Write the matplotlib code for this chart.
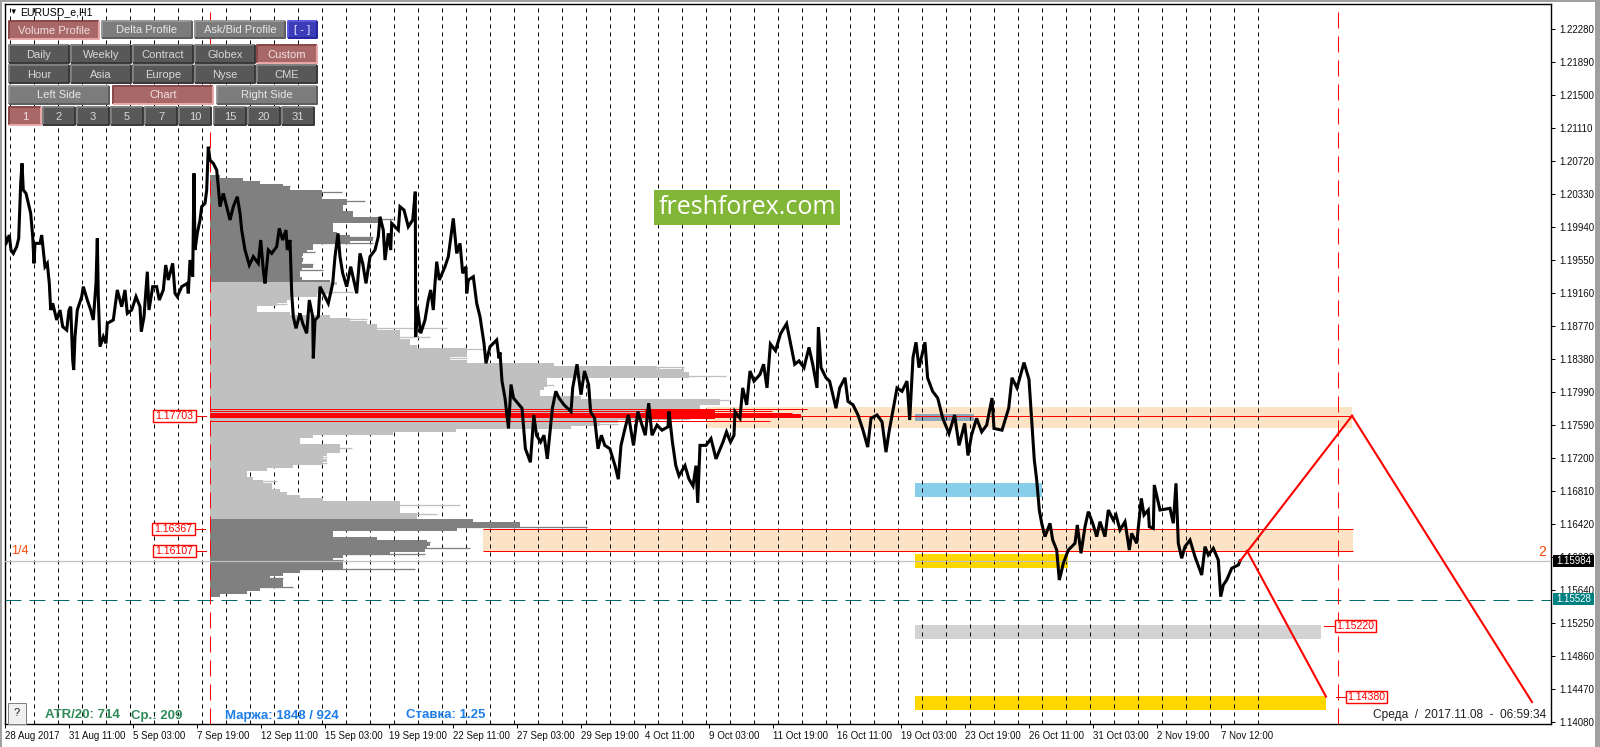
import numpy as np
import matplotlib
matplotlib.use('Agg')
import matplotlib.pyplot as plt
from matplotlib.patches import Rectangle

plt.rcParams['font.family'] = ['Liberation Sans', 'DejaVu Sans']

# Price path: hour bar since 28 Aug 2017 / EURUSD price
bars = [0, 1.7, 4.3, 6, 8.3, 11.7, 13.7, 15.7, 17, 18.3, 21, 23.3, 25.7, 27.7, 29, 30, 35, 36.7, 38.3, 40, 42.3, 44.3,
        45.7, 47.7, 51.7, 55, 57.7, 61.7, 64, 65.7, 67.7, 68.7, 70, 72.3, 76.7, 78.3, 82.3, 85.7, 88.3, 91, 92.3, 93.3,
        95, 98.3, 101, 102.3, 108.3, 112.3, 116.7, 120, 122.3, 126.7, 131, 135, 136.3, 139, 142.3, 144, 147.7, 151.7,
        154.3, 158.3, 160.7, 163.3, 167.7, 170, 172.3, 176.7, 182.3, 183.3, 185, 187.7, 189, 190, 192.3, 195, 196.7,
        200, 201.7, 203.3, 205, 208.3, 211.7, 213.3, 215, 218.3, 221.7, 225, 228.3, 232.3, 235, 236.7, 240, 244.3,
        248.3, 253.3, 255.7, 258.3, 260, 263.3, 266.7, 271.7, 274.3, 277.7, 281, 282.3, 285, 286.7, 288.3, 291, 295,
        297.7, 301.7, 304.3, 307.7, 308.3, 310, 313.3, 315, 320, 323.3, 327.7, 330, 333, 335, 337.7, 341.7, 345.7,
        351.7, 355, 357.7, 361, 365, 370, 373.3, 375, 378.3, 380, 383.3, 385.7, 386.7, 393.3, 395, 399, 403.3, 407.7,
        410.3, 410.7, 412.3, 415.7, 420, 423.3, 425.7, 428.3, 430, 431.7, 434.3, 440, 443.3, 448.3, 451.7, 455, 457.7,
        461, 461.7, 463.3, 468.3, 471.7, 475, 479, 481, 485, 491.7, 494,
        495, 497, 500, 503.5, 506, 508.5, 517, 520.4, 525.4, 528.8, 531.5, 535.6, 539, 542.3, 547.4, 550.8, 554, 559,
        566, 567.7, 572, 576, 579.5, 583.6, 585.6, 589.6, 593, 596.4, 599.8, 604.9, 610, 613.3, 616, 620, 623.4, 628.5,
        632.9, 637, 640.3, 643.7, 647, 652, 657, 663, 664, 667.4, 670.8, 674, 680, 684, 688, 691, 692.7, 695, 701, 706,
        711, 718, 721.5, 725.5, 729, 730, 735, 737.7, 741.7, 745, 749, 755, 758.6, 762, 765.4, 770.5, 775.5, 781.6,
        785.7, 789.7, 794, 799, 804, 807.7, 812, 813.4, 816, 821, 824.6, 831, 834.7, 840, 843, 848, 853, 858, 862.7,
        866, 872, 877, 881, 884, 889, 892, 897, 902, 904.7, 908, 911, 914, 920, 922.6, 927.6, 932.7, 937.8, 944, 949.6,
        954, 959.7, 963, 966.5, 971.6, 976.7, 981.7, 987, 989, 997, 1003.7, 1007, 1012, 1019, 1024,
        1029.3, 1031.7, 1034.3, 1036.7, 1040, 1045, 1047.7, 1051.7, 1054.3, 1056, 1058.3, 1063.3, 1070, 1072.3, 1076,
        1080, 1083.3, 1087.7, 1091.7, 1095, 1100, 1103.3, 1108.3, 1111, 1115, 1120, 1124.3, 1126.7, 1131.7, 1136.3,
        1139, 1143.3, 1144.3, 1148.3, 1149.3, 1155, 1165, 1168.3, 1171, 1173.3, 1176.7, 1180, 1185, 1190, 1196.7, 1200,
        1203.3, 1208.3, 1213.3, 1215.7, 1218.3, 1221.7, 1226.7, 1233.3, 1235]
price = [1.19823, 1.19763, 1.19842, 1.19665, 1.19625, 1.19704, 1.19803, 1.20454, 1.2069, 1.20375, 1.20335, 1.20217,
         1.20099, 1.19823, 1.19507, 1.19744, 1.19744, 1.19842, 1.19665, 1.19468, 1.19507, 1.1927, 1.18955, 1.19034,
         1.18837, 1.18955, 1.18758, 1.18718, 1.18955, 1.18994, 1.18363, 1.18245, 1.18639, 1.18955, 1.19113, 1.19231,
         1.19073, 1.18955, 1.18837, 1.1927, 1.19803, 1.19113, 1.18521, 1.18639, 1.1856, 1.18797, 1.18837, 1.19192,
         1.18994, 1.19192, 1.18915, 1.18955, 1.19113, 1.18994, 1.18698, 1.18876, 1.19408, 1.18955, 1.19231, 1.19231,
         1.19073, 1.19192, 1.19487, 1.1931, 1.19507, 1.19152, 1.19113, 1.19231, 1.1927, 1.19152, 1.19546, 1.19349,
         1.20572, 1.19665, 1.19862, 1.2002, 1.20178, 1.20217, 1.20375, 1.20887, 1.2073, 1.2069, 1.20611, 1.20414,
         1.20178, 1.20335, 1.20178, 1.2002, 1.20178, 1.20296, 1.20099, 1.19901, 1.19665, 1.19487, 1.19586, 1.19507,
         1.19783, 1.19428, 1.1927, 1.19665, 1.19625, 1.19704, 1.19921, 1.19783, 1.19901, 1.19665, 1.19783, 1.19152,
         1.18876, 1.18738, 1.18915, 1.18797, 1.18679, 1.19073, 1.18876, 1.18383, 1.18837, 1.18876, 1.19231, 1.19113,
         1.19034, 1.1927, 1.19586, 1.19862, 1.19586, 1.19389, 1.19231, 1.19468, 1.19152, 1.19625, 1.19507, 1.1927,
         1.19586, 1.19665, 1.19823, 1.20059, 1.19901, 1.19546, 1.19862, 1.19665, 1.1998, 1.19901, 1.20178, 1.20138,
         1.19941, 1.2002, 1.20355, 1.18639, 1.18994, 1.18679, 1.18837, 1.19073, 1.19192, 1.18955, 1.1927, 1.19527,
         1.1931, 1.19468, 1.19586, 1.20039, 1.19625, 1.19744, 1.19389, 1.19468, 1.19152, 1.1931, 1.19349, 1.19034,
         1.18876, 1.1856, 1.18324, 1.18521, 1.186, 1.18383,
         1.18453, 1.18113, 1.17913, 1.17553, 1.18073, 1.17913, 1.17793, 1.17313, 1.17153, 1.17713, 1.17473, 1.17393,
         1.17473, 1.17193, 1.17793, 1.17993, 1.17913, 1.17833, 1.17753, 1.18033, 1.18313, 1.17953, 1.18233, 1.18073,
         1.17753, 1.17673, 1.17313, 1.17473, 1.17353, 1.17313, 1.17113, 1.16953, 1.17353, 1.17553, 1.17713, 1.17353,
         1.17753, 1.17593, 1.17473, 1.17853, 1.17473, 1.17593, 1.17533, 1.17573, 1.17753, 1.17393, 1.17113, 1.16993,
         1.17113, 1.16953, 1.16873, 1.17113, 1.16673, 1.17353, 1.17353, 1.17433, 1.17193, 1.17393, 1.17513, 1.17393,
         1.17473, 1.17753, 1.17673, 1.18033, 1.17833, 1.18233, 1.18113, 1.18193, 1.18313, 1.18033, 1.18553, 1.18473,
         1.18673, 1.18793, 1.18553, 1.18313, 1.18353, 1.18273, 1.18513, 1.18313, 1.18033, 1.18753, 1.18273, 1.18153,
         1.18113, 1.17793, 1.18033, 1.18153, 1.17873, 1.17833, 1.17713, 1.17533, 1.17333, 1.17673, 1.17713, 1.17633,
         1.17273, 1.17513, 1.17833, 1.18033, 1.17993, 1.18113, 1.17653, 1.18393, 1.18573, 1.18273, 1.18573, 1.18153,
         1.17993, 1.17913, 1.17673, 1.17493, 1.17713, 1.17353, 1.17613, 1.17233, 1.17473, 1.17673, 1.17513, 1.17593,
         1.17913, 1.17553, 1.17533, 1.17793, 1.18153, 1.18033, 1.18333, 1.18133,
         1.1718, 1.16943, 1.16588, 1.16431, 1.16273, 1.16431, 1.16233, 1.16115, 1.1576, 1.15839, 1.15957, 1.16115,
         1.16194, 1.16411, 1.16076, 1.16391, 1.16569, 1.16431, 1.16273, 1.1645, 1.16273, 1.16588, 1.1647, 1.16529,
         1.16352, 1.1645, 1.16115, 1.16312, 1.16194, 1.16726, 1.16529, 1.16588, 1.16391, 1.16371, 1.16884, 1.16588,
         1.16608, 1.16431, 1.16904, 1.16194, 1.16017, 1.16155, 1.16233, 1.16036, 1.15819, 1.16155, 1.16056, 1.16135,
         1.15997, 1.15563, 1.15701, 1.1576, 1.15898, 1.15938, 1.15984]

# Volume profile widths (in bars), top of each block down
profile_left = 205
profile_step = 0.000355
upper_start = 1.20517
upper_vol = [10, 33, 50, 80, 73, 132, 112, 93, 155, 137, 110, 133, 143, 143, 183, 170, 123, 110, 123, 127, 163, 140,
             163, 103, 97, 105, 87, 93, 92, 103, 92, 113, 90, 87, 92, 120]
middle_start = 1.19251
middle_vol = [127, 110, 123, 143, 107, 80, 67, 77, 47, 30, 80, 120, 157, 140, 167, 237, 160, 190, 220, 183, 200, 207,
              273, 257, 240, 257, 213, 344, 474, 447, 479, 516, 310, 337, 344, 334, 322, 330, 371, 520, 510, 490, 490,
              490, 490, 480, 390, 408, 361, 246, 183, 103, 90, 77, 130, 142, 130, 57, 117, 113, 117, 83, 57, 37, 27,
              43, 67, 53, 62, 70, 77, 90, 113, 190, 250, 190, 187, 227, 207]
lower_start = 1.16446
lower_vol = [263, 310, 377, 247, 110, 123, 167, 220, 217, 260, 180, 215, 123, 133, 123, 133, 205, 90, 40, 73, 60, 73,
             83, 50, 37, 10]
# Point of control rows
poc_price = [1.17783, 1.17760, 1.17736, 1.17703, 1.17640]
poc_vol = [597, 562, 582, 591, 560]
poc_thick = [1, 1, 1, 4, 1]

# Zones: left bar, right bar, upper price, lower price
zones = {
    'upper': (701, 1347, 1.17802, 1.17562),
    'lower': (478, 1348, 1.16367, 1.16107),
    'blue': (910, 1037, 1.16908, 1.16742),
    'steel': (910, 969, 1.17730, 1.17646),
    'gold': (910, 1063, 1.16067, 1.15902),
    'gray': (910, 1316, 1.15227, 1.15062),
    'gold2': (910, 1321, 1.14387, 1.14222),
}

# Projected path
up_bar, up_price = [1235, 1347], [1.15984, 1.17703]
down_bar, down_price = [1242, 1321], [1.16107, 1.14380]
fall_bar, fall_price = [1347, 1527], [1.17703, 1.14316]

price_ticks = [1.22280, 1.21890, 1.21500, 1.21110, 1.20720, 1.20330, 1.19940, 1.19550, 1.19160, 1.18770, 1.18380,
               1.17990, 1.17590, 1.17200, 1.16810, 1.16420, 1.16030, 1.15640, 1.15250, 1.14860, 1.14470, 1.14080]
time_labels = ['28 Aug 2017', '31 Aug 11:00', '5 Sep 03:00', '7 Sep 19:00', '12 Sep 11:00', '15 Sep 03:00',
               '19 Sep 19:00', '22 Sep 11:00', '27 Sep 03:00', '29 Sep 19:00', '4 Oct 11:00', '9 Oct 03:00',
               '11 Oct 19:00', '16 Oct 11:00', '19 Oct 03:00', '23 Oct 19:00', '26 Oct 11:00', '31 Oct 03:00',
               '2 Nov 19:00', '7 Nov 12:00']

W, H = 1600, 747
px = 0.72  # one pixel in points
fig = plt.figure(figsize=(W / 100, H / 100), dpi=100, facecolor='white')
ax = fig.add_axes([5 / W, (H - 724) / H, 1546 / W, 720 / H])
ax.set_xlim(0, 1546)
ax.set_ylim(1.14056, 1.22576)
for s in ax.spines.values():
    s.set_linewidth(1.4 * px)
ax.yaxis.tick_right()
ax.set_yticks(price_ticks, ['%.5f' % p for p in price_ticks], fontsize=7, color='#101010')
ax.set_xticks(np.arange(len(time_labels)) * 64, time_labels, fontsize=7, color='#101010', ha='left')
ax.tick_params(axis='both', length=3, width=px, pad=3)
ax.tick_params(axis='x', pad=2)

# day separators
for d in np.arange(5.3, 1254, 24):
    ax.axvline(d, color='black', lw=px, ls=(0, (4, 4)), zorder=2)

for name, (x0, x1, hi, lo) in zones.items():
    c = {'upper': '#FDE3C5', 'lower': '#FDE3C5', 'blue': '#87CEEB', 'steel': '#8FA9BC', 'gold': '#FFD700',
         'gray': '#D3D3D3', 'gold2': '#FFD700'}[name]
    ax.add_patch(Rectangle((x0, lo), x1 - x0, hi - lo, fc=c, ec='none', zorder=1 if name != 'steel' else 1.5))


# profile blocks: solid body plus hairline tips, like the terminal draws them
def draw_profile(start, vol, color):
    vol = np.array(vol, dtype=float)
    lv = start - profile_step * np.arange(len(vol))
    nb = np.vstack([np.r_[vol[0], vol[:-1]], vol, np.r_[vol[1:], vol[-1]]])
    body = np.median(nb, axis=0)
    ax.barh(lv, body, height=profile_step, left=profile_left, color=color, lw=0, align='edge',
            antialiased=False, zorder=3)
    tips = vol > body
    ax.hlines(lv[tips] + profile_step / 2, profile_left, profile_left + vol[tips], color=color, lw=1.3 * px, zorder=3)


draw_profile(upper_start, upper_vol, '#808080')
draw_profile(middle_start, middle_vol, '#C0C0C0')
draw_profile(lower_start, lower_vol, '#808080')
ax.hlines(poc_price, profile_left, np.array(poc_vol) + profile_left, color='red', lw=np.array(poc_thick) * px, zorder=3.5)
ax.barh([1.17720], [70], height=0.0010, left=640, color='red', lw=0, zorder=3.5)

ax.hlines([1.17703, 1.16367, 1.16107], [701, 478, 478], [1347, 1348, 1348], color='red', lw=px, zorder=3.2)

# price lines
ax.axhline(1.15984, color='#C0C0C0', lw=1.2 * px, zorder=3.6)
ax.axhline(1.15528, color='#006D6D', lw=px, ls=(0, (16, 8)), zorder=3.6)
ax.axvline(205, color='red', lw=px, ls=(0, (16, 8)), zorder=3.6)
ax.axvline(1332.5, color='red', lw=px, ls=(0, (16, 8)), ymax=0.992, zorder=3.6)

ax.plot(bars, price, color='black', lw=2.2, solid_joinstyle='miter', zorder=4)

for bx, pr in [(up_bar, up_price), (down_bar, down_price), (fall_bar, fall_price)]:
    ax.plot(bx, pr, color='red', lw=1.5, zorder=5)

# overlay in screen pixels for terminal widgets and labels
ui = fig.add_axes([0, 0, 1, 1], facecolor='none')
ui.set_xlim(0, W)
ui.set_ylim(H, 0)
ui.axis('off')

ui.add_patch(Rectangle((0, 0), 2, H, fc='#A0A0A0', ec='none'))
ui.add_patch(Rectangle((0, 0), W, 2, fc='#A0A0A0', ec='none'))
ui.add_patch(Rectangle((1595, 0), 5, H, fc='#A0A0A0', ec='none'))


def button(x0, y0, x1, y1, label, style='dark'):
    face, hi, lo, txt = {'dark': ('#585858', '#808080', '#383838', '#D8D8D8'),
                         'mid': ('#7C7C7C', '#989898', '#5C5C5C', '#E8E8E8'),
                         'on': ('#A86868', '#884848', '#E8A8A8', '#F0E0E0'),
                         'blue': ('#3C3CB8', '#5858E0', '#2424A0', '#E8E8FF')}[style]
    ui.add_patch(Rectangle((x0, y0), x1 - x0, y1 - y0, fc=face, ec='none'))
    ui.plot([x0, x0, x1], [y1, y0, y0], color=hi, lw=1.4, solid_capstyle='butt')
    ui.plot([x0, x1, x1], [y1, y1, y0], color=lo, lw=1.4, solid_capstyle='butt')
    ui.text((x0 + x1) / 2, (y0 + y1) / 2 + 0.5, label, color=txt, fontsize=8, ha='center', va='center')


button(9, 21, 99, 39, 'Volume Profile', 'on')
button(102, 21, 192, 38, 'Delta Profile', 'mid')
button(195, 21, 285, 38, 'Ask/Bid Profile', 'mid')
button(288, 21, 317, 38, '[ - ]', 'blue')
for i, lab in enumerate(['Daily', 'Weekly', 'Contract', 'Globex', 'Custom']):
    button(9 + 62 * i, 45, 69 + 62 * i, 63, lab, 'on' if lab == 'Custom' else 'dark')
for i, lab in enumerate(['Hour', 'Asia', 'Europe', 'Nyse', 'CME']):
    button(9 + 62 * i, 65, 69 + 62 * i, 83, lab)
button(9, 86, 109, 104, 'Left Side', 'mid')
button(113, 86, 213, 104, 'Chart', 'on')
button(217, 86, 317, 104, 'Right Side', 'mid')
for i, lab in enumerate(['1', '2', '3', '5', '7', '10', '15', '20', '31']):
    x0 = 9 + 34 * i + (1 if i > 5 else 0)
    button(x0, 107, x0 + 32, 125, lab, 'on' if lab == '1' else 'dark')
ui.text(9, 12.5, '▼', fontsize=5.5, color='black', va='center')
ui.text(20, 12.5, 'EURUSD_e,H1', fontsize=7.6, color='black', va='center')

# "?" button
ui.add_patch(Rectangle((8, 703), 18, 21, fc='#F0F0F0', ec='#808080', lw=px))
ui.text(17, 713, '?', fontsize=8, color='#202020', ha='center', va='center')

# status strip
ui.text(45, 715.5, 'ATR/20: 714', color='#2E8B57', fontsize=9.5, fontweight='bold', va='center')
ui.text(131, 715.5, 'Ср.: 209', color='#2E8B57', fontsize=9.5, fontweight='bold', va='center')
ui.text(225, 715.5, 'Маржа: 1848 / 924', color='#1E7FE8', fontsize=9.5, fontweight='bold', va='center')
ui.text(406, 715.5, 'Ставка: 1.25', color='#1E7FE8', fontsize=9.5, fontweight='bold', va='center')
ui.text(1546, 715, 'Среда  /  2017.11.08  -  06:59:34', color='#202020', fontsize=8.6, ha='right', va='center')

# watermark
ui.add_patch(Rectangle((654, 190), 186, 35, fc='#82B636', ec='none'))
ui.text(747, 207, 'freshforex.com', color='white', fontsize=18, family='Open Sans', ha='center', va='center')

# red price tags
for x0, x1, y, lab, t0, t1 in [(153, 196, 415.5, '1.17703', 196, 206), (152, 195, 528.5, '1.16367', 195, 205),
                               (153, 196, 550.5, '1.16107', 196, 206), (1335, 1376, 625.5, '1.15220', 1324, 1335),
                               (1346, 1387, 697, '1.14380', 1336, 1346)]:
    ui.add_patch(Rectangle((x0, y - 6), x1 - x0, 12, fc='white', ec='red', lw=1.4 * px, zorder=6))
    ui.plot([t0, t1], [y, y], color='red', lw=px, zorder=6)
    ui.text((x0 + x1) / 2, y + 0.5, lab, color='red', fontsize=7.6, ha='center', va='center', zorder=7)

ui.text(11, 551.5, '1/4', color='#FF4500', fontsize=9, va='center')
ui.text(1542, 551.5, '2', color='#FF4500', fontsize=10, ha='center', va='center')

# current price / low price tags
ui.add_patch(Rectangle((1553, 555), 41, 11.5, fc='black', ec='none', zorder=6))
ui.text(1573.5, 560.8, '1.15984', color='white', fontsize=7, ha='center', va='center', zorder=7)
ui.add_patch(Rectangle((1553, 593), 41, 11.5, fc='#008080', ec='none', zorder=6))
ui.text(1573.5, 598.8, '1.15528', color='white', fontsize=7, ha='center', va='center', zorder=7)

fig.savefig('out.png', dpi=100)
